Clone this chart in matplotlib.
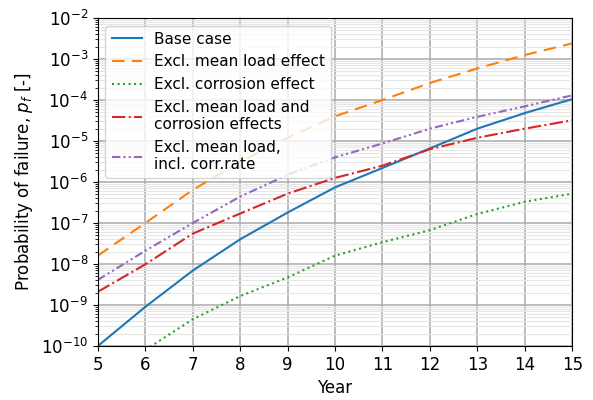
import matplotlib
matplotlib.use("Agg")
import matplotlib.pyplot as plt
import numpy as np

# years and probability of failure
years = [5, 6, 7, 8, 9, 10, 11, 12, 13, 14, 15]
base_case = [1.0e-10, 9.0e-10, 6.9e-9, 4.0e-8, 1.8e-7, 7.4e-7, 2.2e-6, 6.6e-6, 2.0e-5, 4.8e-5, 1.05e-4]
excl_mean_load = [1.6e-8, 1.0e-7, 6.4e-7, 3.1e-6, 1.2e-5, 4.0e-5, 1.0e-4, 2.6e-4, 5.9e-4, 1.25e-3, 2.4e-3]
excl_corrosion = [np.nan, 8.0e-11, 4.5e-10, 1.65e-9, 4.7e-9, 1.6e-8, 3.4e-8, 6.7e-8, 1.66e-7, 3.3e-7, 5.2e-7]
excl_load_corr = [2.1e-9, 9.8e-9, 5.5e-8, 1.7e-7, 5.2e-7, 1.26e-6, 2.5e-6, 6.3e-6, 1.2e-5, 2.0e-5, 3.2e-5]
excl_load_incl_rate = [4.1e-9, 2.1e-8, 1.0e-7, 4.4e-7, 1.5e-6, 4.0e-6, 8.7e-6, 2.0e-5, 3.9e-5, 7.0e-5, 1.3e-4]

fig, ax = plt.subplots(figsize=(5.93, 4.0), dpi=100)

ax.plot(years, base_case, color="tab:blue", linestyle="-", label="Base case")
ax.plot(years, excl_mean_load, color="tab:orange", linestyle=(0, (6, 3.5)), label="Excl. mean load effect")
ax.plot(years, excl_corrosion, color="tab:green", linestyle=":", label="Excl. corrosion effect")
ax.plot(years, excl_load_corr, color="tab:red", linestyle="-.", label="Excl. mean load and\ncorrosion effects")
ax.plot(years, excl_load_incl_rate, color="tab:purple", linestyle=(0, (4, 1.5, 1, 1.5, 1, 1.5)),
        label="Excl. mean load,\nincl. corr.rate")

ax.set_yscale("log")
ax.set_xlim(5, 15)
ax.set_ylim(1e-10, 1e-2)
ax.set_xticks(range(5, 16))
ax.yaxis.set_major_locator(matplotlib.ticker.LogLocator(base=10, numticks=20))
ax.yaxis.set_minor_locator(matplotlib.ticker.LogLocator(base=10, subs=np.arange(2, 10), numticks=20))
ax.yaxis.set_minor_formatter(matplotlib.ticker.NullFormatter())

ax.grid(True, which="major", color="#b0b0b0", linewidth=1.2)
ax.grid(True, which="minor", axis="y", color="#e6e6e6", linewidth=0.8)

ax.tick_params(labelsize=12)
ax.set_xlabel("Year", fontsize=12)
ax.set_ylabel("Probability of failure, $p_f$ [-]", fontsize=12)
ax.legend(loc="upper left", fontsize=11)

fig.subplots_adjust(left=0.165, right=0.965, top=0.955, bottom=0.135)
fig.savefig("out.png", dpi=100)
